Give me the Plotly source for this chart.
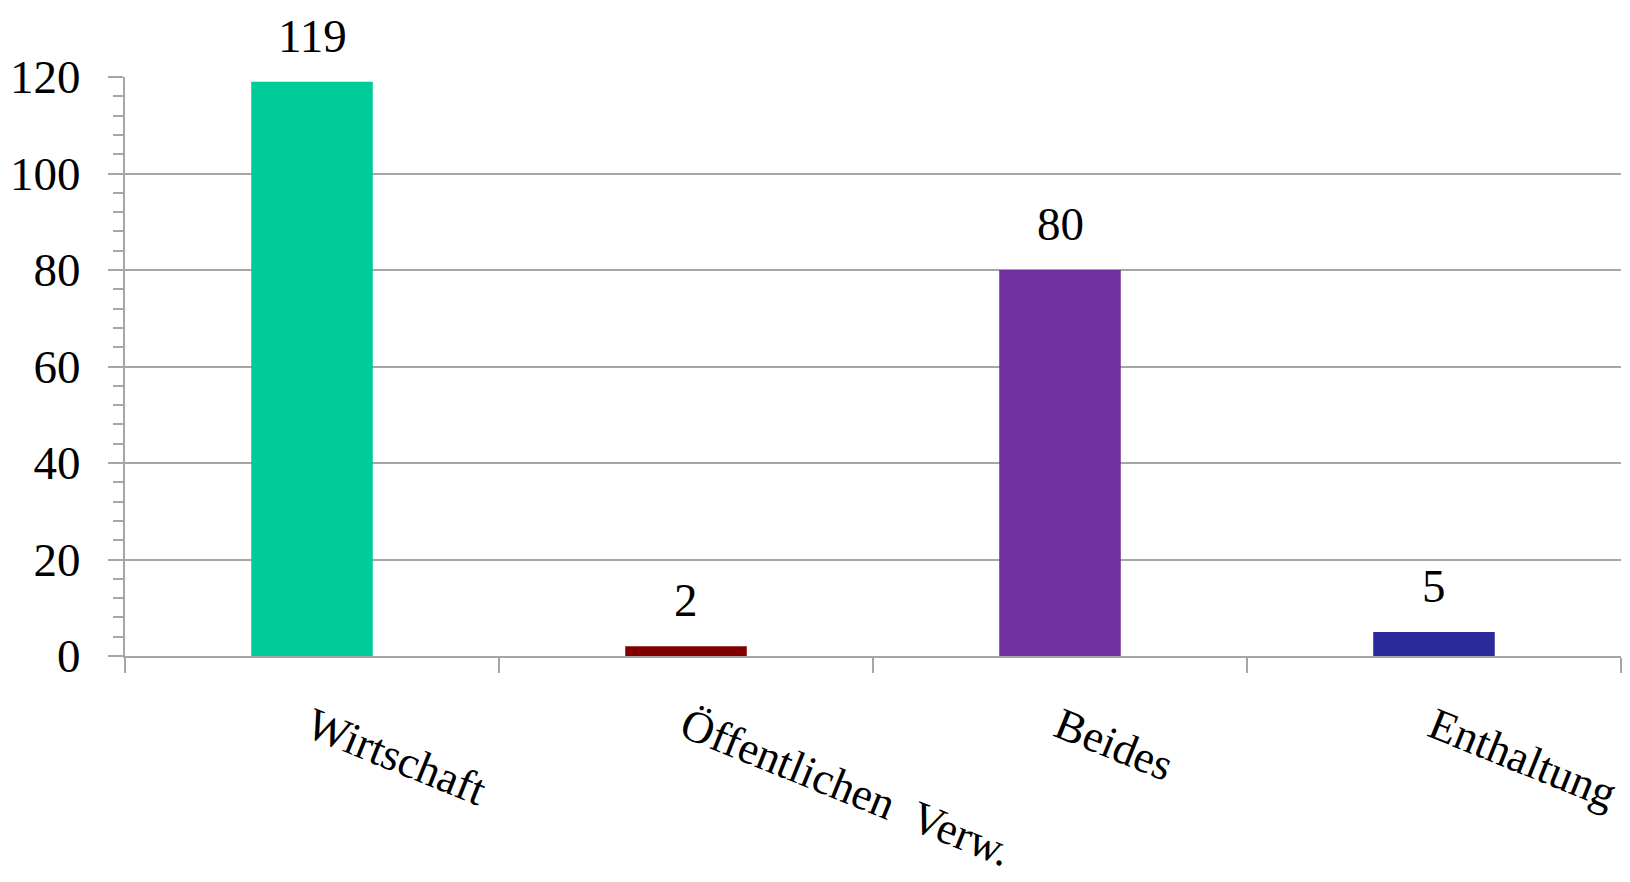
import plotly.graph_objects as go

categories = ["Wirtschaft", "Öffentlichen\u00a0 Verw.", "Beides", "Enthaltung"]
values = [119, 2, 80, 5]
bar_colors = ["#00CC99", "#800000", "#7030A0", "#2A2A9A"]
y_ticks = [0, 20, 40, 60, 80, 100, 120]

FONT = "Liberation Serif"
GRID = "#A6A6A6"

fig = go.Figure()
fig.add_trace(go.Bar(
    x=categories, y=values,
    marker=dict(color=bar_colors, line=dict(width=0)),
    width=0.325,
    hoverinfo="x+y",
))

for c, v in zip(categories, values):
    fig.add_annotation(
        x=c, y=v, text=str(v), showarrow=False,
        yanchor="bottom", yshift=18,
        font=dict(family=FONT, size=47, color="black"),
    )

fig.update_layout(
    width=1622, height=874,
    margin=dict(l=117, r=9, t=69, b=226),
    paper_bgcolor="white", plot_bgcolor="white",
    showlegend=False,
    font=dict(family=FONT, size=47, color="black"),
)
fig.update_xaxes(
    type="category",
    automargin=False,
    tickangle=22,
    tickson="boundaries",
    ticks="outside", ticklen=15, tickwidth=1.5, tickcolor=GRID,
    showline=True, linecolor=GRID, linewidth=2,
    showgrid=False,
    ticklabelstandoff=25,
    tickfont=dict(family=FONT, size=45, color="black"),
)
fig.update_yaxes(
    automargin=False,
    range=[0, 120],
    tickvals=y_ticks,
    ticks="outside", ticklen=15, tickwidth=1.5, tickcolor=GRID,
    showline=True, linecolor=GRID, linewidth=2,
    showgrid=True, gridcolor=GRID, gridwidth=1.5,
    zeroline=False,
    minor=dict(dtick=4, ticks="outside", ticklen=10, tickwidth=1.5, tickcolor=GRID, showgrid=False),
    ticklabelstandoff=18,
    tickfont=dict(family=FONT, size=47, color="black"),
)

fig.write_html("out.html")
